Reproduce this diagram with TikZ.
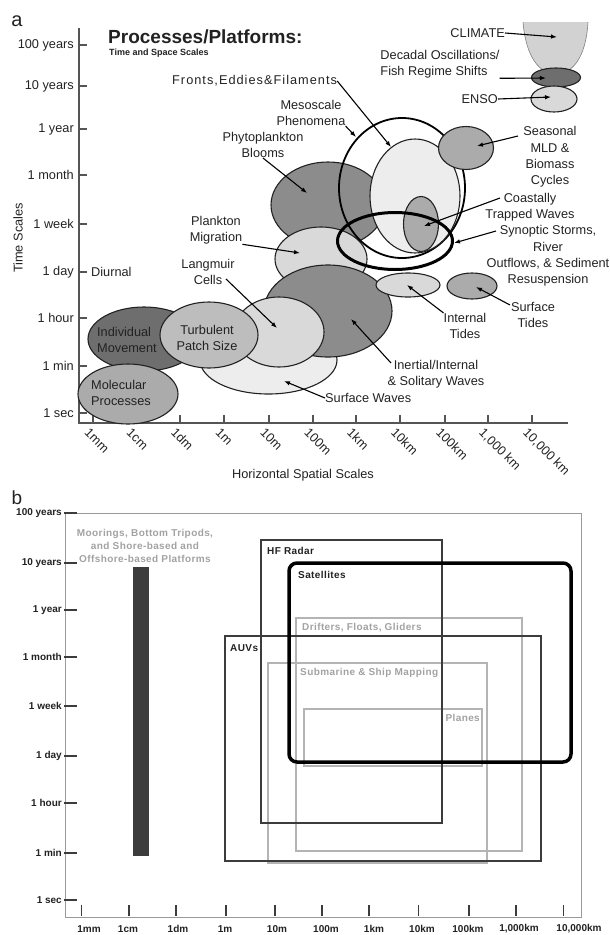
\documentclass[tikz,border=0pt]{standalone}
\usepackage{fontspec}
\setmainfont{Liberation Sans}
\newfontfamily\trackfont{Liberation Sans}[LetterSpace=4]
\newfontfamily\widefont{Liberation Sans}[LetterSpace=8]
\usetikzlibrary{shapes.geometric,arrows.meta}
\definecolor{inkgray}{HTML}{222222}
\definecolor{axisgray}{HTML}{555555}
\definecolor{darkfill}{HTML}{6E6E6E}
\definecolor{deepfill}{HTML}{8C8C8C}
\definecolor{midfill}{HTML}{ABABAB}
\definecolor{patchfill}{HTML}{BDBDBD}
\definecolor{lightfill}{HTML}{D9D9D9}
\definecolor{palefill}{HTML}{EDEDED}
\definecolor{climfill}{HTML}{D2D2D2}
\definecolor{boxdark}{HTML}{3C3C3C}
\definecolor{boxlight}{HTML}{B4B4B4}
\definecolor{textlight}{HTML}{A2A2A2}
\definecolor{framegray}{HTML}{9A9A9A}

\begin{document}
\begin{tikzpicture}
  [x=1pt,y=-1pt,
   every node/.style={inner sep=0pt,text=inkgray,font=\fontsize{12.75}{16.3}\selectfont},
   blob/.style 2 args={ellipse,draw=inkgray,line width=1.1pt,minimum width=#1,minimum height=#2},
   lead/.style={line width=1.1pt,-{Latex[length=6pt,width=4.5pt]}},
   axis/.style={draw=axisgray,line width=1.4pt},
   ticklbl/.style={font=\bfseries\fontsize{10}{12}\selectfont},
   boxlbl/.style={font=\trackfont\bfseries\fontsize{10}{13}\selectfont},
   darkbox/.style={draw=boxdark,line width=1.6pt},
   lightbox/.style={draw=boxlight,line width=2pt}]
  \useasboundingbox (0,0) rectangle (610,935);

  % panel a: processes
  \node[font=\fontsize{20}{20}\selectfont] (pa) at (17,21) {a};
  \node[anchor=base west,font=\bfseries\fontsize{19}{19}\selectfont] (title) at (108,43) {Processes/Platforms:};
  \node[anchor=base west,font=\bfseries\fontsize{9}{9}\selectfont] (subtitle) at (109,55) {Time and Space Scales};

  \draw[axis] (79,28) -- (79,423) -- (568,423);
  \foreach \y/\t in {45/100 years,86/10 years,129/1 year,175/1 month,224/1 week,272/1 day,318/1 hour,366/1 min,413/1 sec}
  {
    \draw[axis] (79,\y) -- (87,\y);
    \node[anchor=east] (ya\y) at (74,\y) {\t};
  }
  \foreach \x/\t in {93/1mm,135/1cm,180/1dm,224/1m,269/10m,313/100m,356/1km,400/10km,445/100km,488/{1,000 km},532/{10,000 km}}
  {
    \draw[axis] (\x,415) -- (\x,423);
    \node[rotate=-45,anchor=north west] (xa\x) at (\x-3,427) {\t};
  }
  \node (hlbl) at (303,475) {Horizontal Spatial Scales};
  \node[rotate=90] (tlbl) at (18,238) {Time Scales};

  \fill[climfill] (523,22) .. controls (526,58) and (540,74) .. (556,74) .. controls (572,74) and (586,58) .. (588,22) -- cycle;
  \draw[gray,line width=0.6pt] (523,22) .. controls (526,58) and (540,74) .. (556,74) .. controls (572,74) and (586,58) .. (588,22);
  \node[blob={49pt}{19pt},fill=darkfill] (decad) at (556,77.5) {};
  \node[blob={46pt}{26pt},fill=lightfill] (enso) at (554,99) {};

  \node[blob={137pt}{68pt},fill=palefill] (surfw) at (268.5,360) {};
  \node[blob={114pt}{86pt},fill=deepfill] (phyto) at (328,205) {};
  \node[blob={92pt}{64pt},fill=lightfill] (plank) at (321,259) {};
  \node[blob={128pt}{92pt},fill=deepfill] (inert) at (328,311) {};
  \node[blob={90pt}{70pt},fill=lightfill] (langm) at (279,332) {};
  \node[blob={112pt}{64pt},fill=darkfill] (indiv) at (144,339) {};
  \node[blob={98pt}{66pt},fill=patchfill] (turb) at (209,335) {};
  \node[blob={100pt}{60pt},fill=midfill] (molec) at (128,394) {};

  \node[blob={126pt}{140pt},draw=black,line width=1.8pt] (meso) at (402,188) {};
  \node[blob={90pt}{114pt},fill=palefill] (fronts) at (415,196) {};
  \node[blob={55pt}{43pt},fill=midfill] (seas) at (466,148) {};
  \node[blob={35pt}{55pt},fill=midfill] (coast) at (421,224) {};
  \node[blob={115pt}{57pt},draw=black,line width=3pt] (synop) at (395,241) {};
  \node[blob={64pt}{24pt},fill=lightfill] (intide) at (408,285) {};
  \node[blob={50pt}{26pt},fill=midfill] (stide) at (472,286) {};

  \node[anchor=east] (climlbl) at (505,33) {CLIMATE};
  \node[align=left] (decadlbl) at (440,64) {Decadal Oscillations/\\Fish Regime Shifts};
  \node[anchor=east] (ensolbl) at (498,99) {ENSO};
  \node[anchor=west,font=\widefont\fontsize{12.75}{16}\selectfont] (frontlbl) at (172,81) {Fronts,Eddies\&Filaments};
  \node[align=center] (mesolbl) at (311,113) {Mesoscale\\Phenomena};
  \node[align=center] (phytolbl) at (263,145) {Phytoplankton\\Blooms};
  \node[align=center] (seaslbl) at (550,157) {Seasonal\\MLD \&\\Biomass\\Cycles};
  \node[align=center] (coastlbl) at (530,207) {Coastally\\Trapped Waves};
  \node[align=center] (synlbl) at (548,256) {Synoptic Storms,\\River\\Outflows, \& Sediment\\Resuspension};
  \node[align=center] (planklbl) at (216,230) {Plankton\\Migration};
  \node[align=center] (langlbl) at (208,272) {Langmuir\\Cells};
  \node[anchor=west] (diurnlbl) at (91,272) {Diurnal};
  \node[align=left,anchor=west] (indivlbl) at (97,340) {Individual\\Movement};
  \node[align=center] (turblbl) at (207,338) {Turbulent\\Patch Size};
  \node[align=left,anchor=west] (moleclbl) at (91,393) {Molecular\\Processes};
  \node[align=center] (itlbl) at (465,326) {Internal\\Tides};
  \node[align=center] (stlbl) at (533,315) {Surface\\Tides};
  \node[align=center] (inertlbl) at (436,374) {Inertial/Internal\\\& Solitary Waves};
  \node[anchor=west] (swlbl) at (325,398) {Surface Waves};

  \coordinate (climtip) at (557,37);
  \coordinate (decadtip) at (546,78);
  \coordinate (ensotip) at (551,97);
  \coordinate (fronttip) at (391,147);
  \coordinate (mesotip) at (356,137);
  \coordinate (phytotip) at (307,193);
  \coordinate (seasfrom) at (518,136);
  \coordinate (seastip) at (477,146);
  \coordinate (coastfrom) at (500,198);
  \coordinate (coasttip) at (424,226);
  \coordinate (synfrom) at (496,231);
  \coordinate (syntip) at (454,243);
  \coordinate (planktip) at (300,253);
  \coordinate (langfrom) at (226,279);
  \coordinate (langtip) at (277,328);
  \coordinate (inertfrom) at (391,363);
  \coordinate (inerttip) at (351,319);
  \coordinate (swtip) at (284,381);
  \coordinate (ittip) at (407,285);
  \coordinate (stfrom) at (510,305);
  \coordinate (sttip) at (476,287);

  \foreach \from/\to in {climlbl.east/climtip,decadlbl.south east/decadtip,ensolbl.east/ensotip,
      frontlbl.east/fronttip,mesolbl.south east/mesotip,phytolbl.south/phytotip,seasfrom/seastip,
      coastfrom/coasttip,synfrom/syntip,planklbl.south east/planktip,langfrom/langtip,
      inertfrom/inerttip,swlbl.west/swtip,itlbl.north west/ittip,stfrom/sttip}
    \draw[lead] (\from) -- (\to);

  % panel b: platforms
  \node[font=\fontsize{19}{19}\selectfont] (pb) at (17,498) {b};
  \draw[draw=framegray,line width=1pt] (65,513) rectangle (581,917);
  \foreach \y/\t in {513/100 years,563/10 years,610/1 year,657/1 month,706/1 week,756/1 day,803/1 hour,853/1 min,900/1 sec}
  {
    \draw[draw=boxdark,line width=1.6pt] (64,\y) -- (77,\y);
    \node[ticklbl,anchor=east] (yb\y) at (62,\y) {\t};
  }
  \foreach \x in {81.6,129,175.7,226,274.7,321.8,369,418.5,469,516,563.5}
    \draw[draw=boxdark,line width=1.6pt] (\x,905) -- (\x,916);
  \foreach \x/\t [count=\i] in {89/1mm,128/1cm,178/1dm,225/1m,277/10m,326/100m,374/1km,422/10km,468/100km,519/{1,000km},579/{10,000km}}
    \node[ticklbl] (xb\i) at (\x,929) {\t};

  \fill[boxdark] (133,567) rectangle (149,856);
  \draw[lightbox] (296,618) rectangle (522,851);
  \draw[lightbox] (268,663) rectangle (487,863);
  \draw[lightbox] (304,709) rectangle (482,766);
  \draw[darkbox] (261,540) rectangle (442,823);
  \draw[darkbox] (225,636) rectangle (541,861);
  \draw[line width=3.5pt,rounded corners=8pt] (289,563) rectangle (571,762);

  \node[boxlbl,text=textlight,align=center] (moorlbl) at (145,546) {Moorings, Bottom Tripods,\\and Shore-based and\\Offshore-based Platforms};
  \node[boxlbl,anchor=west] (hflbl) at (267,551) {HF Radar};
  \node[boxlbl,anchor=west] (satlbl) at (298,575) {Satellites};
  \node[boxlbl,anchor=west] (auvlbl) at (230,648) {AUVs};
  \node[boxlbl,text=textlight,anchor=west] (driftlbl) at (302,628) {Drifters, Floats, Gliders};
  \node[boxlbl,text=textlight,anchor=west] (sublbl) at (300,673) {Submarine \& Ship Mapping};
  \node[boxlbl,text=textlight,anchor=east] (planelbl) at (480,718) {Planes};
\end{tikzpicture}
\end{document}
